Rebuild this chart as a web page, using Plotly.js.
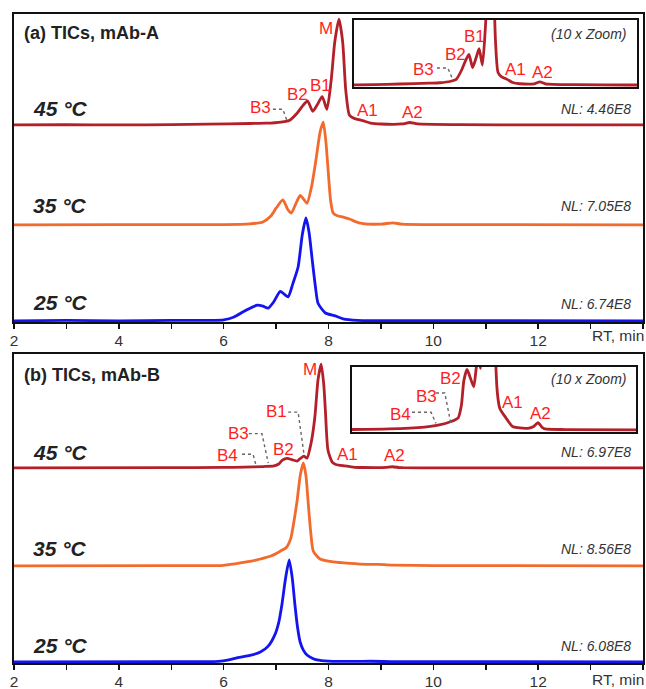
<!DOCTYPE html>
<html>
<head>
<meta charset="utf-8">
<script src="https://cdn.plot.ly/plotly-3.0.1.min.js"></script>
<style>
html,body{margin:0;padding:0;background:#fff;}
#chart{width:646px;height:689px;}
</style>
</head>
<body>
<div id="chart"></div>
<script>
// ---------- DATA (intensity in relative units, 1 unit ~ main peak) ----------
// Panel (a) mAb-A
const rtA45 = [2.0, 3.0, 4.0, 5.0, 5.7, 6.5, 6.8, 7.1, 7.25, 7.4, 7.5, 7.6, 7.7, 7.8, 7.88, 7.97, 8.05, 8.12, 8.2, 8.27, 8.33, 8.4, 8.5, 8.65, 8.8, 9.0, 9.4, 9.55, 9.7, 10.5, 12.0, 14.0];
const iA45  = [0.0, 0.002, 0.0, 0.003, 0.008, 0.015, 0.018, 0.03, 0.045, 0.12, 0.19, 0.245, 0.14, 0.22, 0.29, 0.16, 0.45, 0.85, 1.08, 0.85, 0.35, 0.10, 0.065, 0.045, 0.02, 0.01, 0.01, 0.025, 0.01, 0.003, 0.0, 0.0];
const rtA35 = [2.0, 4.0, 6.0, 6.5, 6.75, 6.9, 7.0, 7.13, 7.22, 7.29, 7.38, 7.46, 7.53, 7.59, 7.68, 7.76, 7.84, 7.9, 7.95, 7.99, 8.04, 8.09, 8.18, 8.28, 8.4, 8.5, 8.66, 9.0, 9.23, 9.4, 10.0, 14.0];
const iA35  = [0.0, 0.003, 0.002, 0.01, 0.03, 0.09, 0.17, 0.255, 0.16, 0.12, 0.22, 0.30, 0.26, 0.22, 0.40, 0.66, 0.95, 1.05, 0.85, 0.58, 0.25, 0.12, 0.09, 0.08, 0.06, 0.035, 0.012, 0.008, 0.02, 0.008, 0.003, 0.0];
const rtA25 = [2.0, 3.0, 4.0, 5.0, 5.8, 6.0, 6.2, 6.4, 6.64, 6.75, 6.85, 6.95, 7.08, 7.16, 7.23, 7.32, 7.42, 7.5, 7.57, 7.63, 7.69, 7.75, 7.8, 7.94, 8.13, 8.28, 8.55, 10.0, 14.0];
const iA25  = [0.0, 0.005, 0.0, 0.004, 0.005, 0.01, 0.04, 0.10, 0.16, 0.15, 0.13, 0.19, 0.30, 0.27, 0.245, 0.38, 0.55, 0.88, 1.05, 0.90, 0.62, 0.35, 0.18, 0.08, 0.05, 0.02, 0.005, 0.002, 0.0];
// Panel (b) mAb-B
const rtB45 = [2.0, 5.0, 6.0, 6.39, 6.76, 6.96, 7.05, 7.12, 7.21, 7.3, 7.4, 7.47, 7.53, 7.59, 7.67, 7.74, 7.8, 7.86, 7.91, 7.94, 7.99, 8.07, 8.14, 8.31, 8.5, 8.65, 8.94, 9.1, 9.22, 9.35, 9.42, 10.0, 14.0];
const iB45  = [0.0, 0.002, 0.005, 0.008, 0.014, 0.02, 0.04, 0.08, 0.098, 0.085, 0.07, 0.10, 0.12, 0.10, 0.26, 0.52, 0.90, 1.06, 0.85, 0.59, 0.18, 0.06, 0.035, 0.02, 0.006, 0.004, 0.003, 0.006, 0.012, 0.004, 0.002, 0.001, 0.0];
const rtB35 = [2.0, 5.0, 6.0, 6.2, 6.5, 6.7, 6.9, 7.08, 7.2, 7.28, 7.34, 7.4, 7.46, 7.52, 7.57, 7.61, 7.66, 7.71, 7.84, 8.09, 8.41, 8.74, 8.95, 9.2, 10.0, 14.0];
const iB35  = [0.0, 0.002, 0.005, 0.02, 0.045, 0.07, 0.10, 0.15, 0.19, 0.28, 0.45, 0.66, 0.92, 1.05, 0.92, 0.66, 0.35, 0.15, 0.07, 0.04, 0.025, 0.015, 0.015, 0.008, 0.003, 0.0];
const rtB25 = [2.0, 5.0, 5.9, 6.1, 6.3, 6.5, 6.7, 6.85, 6.98, 7.05, 7.11, 7.18, 7.25, 7.31, 7.36, 7.41, 7.46, 7.52, 7.59, 7.7, 7.78, 8.0, 8.5, 8.8, 9.2, 14.0];
const iB25  = [0.0, 0.002, 0.005, 0.02, 0.045, 0.065, 0.10, 0.16, 0.28, 0.40, 0.58, 0.85, 1.04, 0.85, 0.58, 0.35, 0.20, 0.12, 0.07, 0.035, 0.02, 0.008, 0.004, 0.006, 0.002, 0.0];

const tempLabels = ["45 °C", "35 °C", "25 °C"];
const nlA = ["NL: 4.46E8", "NL: 7.05E8", "NL: 6.74E8"];
const nlB = ["NL: 6.97E8", "NL: 8.56E8", "NL: 6.08E8"];
const xTickVals = [2, 4, 6, 8, 10, 12];
const xTickText = ["2", "4", "6", "8", "10", "12"];
const panelTitles = ["(a) TICs, mAb-A", "(b) TICs, mAb-B"];

// ---------- STYLE ----------
const C45 = "#b3202a", C35 = "#f26a2c", C25 = "#1414f0";
const RED = "#ff1e1e";
const offA = [2.0, 0.98, 0];   // stacking offsets for 45, 35, 25
const offB = [1.98, 0.98, 0];
const LW = 2.8;

function shift(arr, o) { return arr.map(v => v + o); }
function tr(x, y, color, xa, ya) {
  return {x: x, y: y, type: "scatter", mode: "lines", xaxis: xa, yaxis: ya,
          line: {color: color, width: LW, shape: "spline", smoothing: 0.6},
          hoverinfo: "skip", showlegend: false};
}

const data = [
  tr(rtA45, shift(iA45, offA[0]), C45, "x", "y"),
  tr(rtA35, shift(iA35, offA[1]), C35, "x", "y"),
  tr(rtA25, shift(iA25, offA[2]), C25, "x", "y"),
  tr(rtA45, iA45, C45, "x2", "y2"),
  tr(rtB45, shift(iB45, offB[0]), C45, "x3", "y3"),
  tr(rtB35, shift(iB35, offB[1]), C35, "x3", "y3"),
  tr(rtB25, shift(iB25, offB[2]), C25, "x3", "y3"),
  tr(rtB45, iB45, C45, "x4", "y4")
];

const TICKFONT = {family: "Liberation Sans, Arial, sans-serif", size: 15.5, color: "#333"};

function mainX(anchor) {
  return {range: [2, 14], domain: [0, 1], anchor: anchor, showline: true, mirror: true,
          linecolor: "#111", linewidth: 2, ticks: "outside", ticklen: 5, tickwidth: 1.5, tickcolor: "#111",
          tickvals: xTickVals, ticktext: xTickText, tickfont: TICKFONT, ticklabelstandoff: -2,
          minor: {ticks: "outside", dtick: 1, ticklen: 5, tickwidth: 1.5, tickcolor: "#111", showgrid: false},
          showgrid: false, zeroline: false, fixedrange: true};
}
function mainY(dom, top, anchor) {
  return {range: [-0.012, top], domain: dom, anchor: anchor, showline: true, mirror: true,
          linecolor: "#111", linewidth: 2, ticks: "", showticklabels: false,
          showgrid: false, zeroline: false, fixedrange: true};
}
function insetX(dom, rng, anchor) {
  return {range: rng, domain: dom, anchor: anchor, showline: true, mirror: true,
          linecolor: "#111", linewidth: 2, ticks: "", showticklabels: false,
          showgrid: false, zeroline: false, fixedrange: true};
}
function insetY(dom, rng, anchor) {
  return {range: rng, domain: dom, anchor: anchor, showline: true, mirror: true,
          linecolor: "#111", linewidth: 2, ticks: "", showticklabels: false,
          showgrid: false, zeroline: false, fixedrange: true};
}

const ann = [];
function txt(xref, yref, x, y, text, opts) {
  ann.push(Object.assign({xref: xref, yref: yref, x: x, y: y, text: text, showarrow: false,
    xanchor: "center", yanchor: "middle"}, opts || {}));
}
const PK = {font: {family: "Liberation Sans, Arial, sans-serif", size: 17, color: RED}};
const TEMPF = {family: "Liberation Sans, Arial, sans-serif", size: 21, color: "#222", weight: "bold", style: "italic"};
const NLF = {family: "Liberation Sans, Arial, sans-serif", size: 14, color: "#333", style: "italic"};
const TITF = {family: "Liberation Sans, Arial, sans-serif", size: 18, color: "#222", weight: "bold"};
const ZF = {family: "Liberation Sans, Arial, sans-serif", size: 14, color: "#333", style: "italic"};

// Panel titles
txt("x", "y", 2.15, 2.94, panelTitles[0], {xanchor: "left", font: TITF});
txt("x3", "y3", 2.15, 2.93, panelTitles[1], {xanchor: "left", font: TITF});
// Temperature labels
const tempYA = [2.17, 1.18, 0.19], tempYB = [2.14, 1.16, 0.17];
const nlYA = [2.16, 1.17, 0.17], nlYB = [2.14, 1.15, 0.16];
for (let i = 0; i < 3; i++) {
  txt("x", "y", 2.33, tempYA[i], tempLabels[i], {xanchor: "left", font: TEMPF});
  txt("x3", "y3", 2.33, tempYB[i], tempLabels[i], {xanchor: "left", font: TEMPF});
  txt("x", "y", 13.81, nlYA[i], nlA[i], {xanchor: "right", font: NLF});
  txt("x3", "y3", 13.81, nlYB[i], nlB[i], {xanchor: "right", font: NLF});
}
// RT, min
txt("paper", "paper", 1.005, 0.5254 - 0.021, "RT, min", {xanchor: "right", font: TICKFONT});
txt("paper", "paper", 1.005, -0.026, "RT, min", {xanchor: "right", font: TICKFONT});

// Peak labels, panel (a)
txt("x", "y", 7.96, 2.99, "M", PK);
txt("x", "y", 7.84, 2.40, "B1", PK);
txt("x", "y", 7.40, 2.31, "B2", PK);
txt("x", "y", 6.71, 2.18, "B3", PK);
txt("x", "y", 8.74, 2.15, "A1", PK);
txt("x", "y", 9.60, 2.13, "A2", PK);
// inset (a)
txt("x2", "y2", 6.36, 0.128, "B3", PK);
txt("x2", "y2", 7.24, 0.24, "B2", PK);
txt("x2", "y2", 7.74, 0.39, "B1", PK);
txt("x2", "y2", 8.89, 0.128, "A1", PK);
txt("x2", "y2", 9.63, 0.104, "A2", PK);
txt("x2", "y2", 11.97, 0.41, "(10 x Zoom)", {xanchor: "right", font: ZF});
// Peak labels, panel (b)
txt("x3", "y3", 7.65, 2.98, "M", PK);
txt("x3", "y3", 7.00, 2.56, "B1", PK);
txt("x3", "y3", 7.15, 2.17, "B2", PK);
txt("x3", "y3", 6.29, 2.33, "B3", PK);
txt("x3", "y3", 6.08, 2.11, "B4", PK);
txt("x3", "y3", 8.37, 2.12, "A1", PK);
txt("x3", "y3", 9.25, 2.11, "A2", PK);
// inset (b)
txt("x4", "y4", 6.73, 0.084, "B2", PK);
txt("x4", "y4", 6.05, 0.055, "B3", PK);
txt("x4", "y4", 5.31, 0.026, "B4", PK);
txt("x4", "y4", 8.51, 0.044, "A1", PK);
txt("x4", "y4", 9.30, 0.027, "A2", PK);
txt("x4", "y4", 11.77, 0.082, "(10 x Zoom)", {xanchor: "right", font: ZF});

// dotted leader lines
const shapes = [];
function leader(xref, yref, pts) {
  let p = "M" + pts[0][0] + "," + pts[0][1];
  for (let i = 1; i < pts.length; i++) p += " L" + pts[i][0] + "," + pts[i][1];
  shapes.push({type: "path", xref: xref, yref: yref, path: p,
               line: {color: "#666", width: 1.4, dash: "dot"}});
}
leader("x", "y", [[6.94, 2.16], [7.13, 2.16], [7.21, 2.04]]);
leader("x2", "y2", [[6.72, 0.136], [7.02, 0.136], [7.16, 0.04]]);
leader("x3", "y3", [[7.23, 2.55], [7.42, 2.55], [7.53, 2.13]]);
leader("x3", "y3", [[6.48, 2.33], [6.73, 2.33], [6.85, 2.03]]);
leader("x3", "y3", [[6.35, 2.12], [6.56, 2.12], [6.62, 2.0]]);
leader("x4", "y4", [[6.33, 0.060], [6.58, 0.060], [6.75, 0.011]]);
leader("x4", "y4", [[5.65, 0.029], [6.19, 0.029], [6.33, 0.011]]);

const layout = {
  width: 646, height: 689,
  margin: {l: 14, r: 3, t: 14, b: 26, pad: 0},
  paper_bgcolor: "#fff", plot_bgcolor: "rgba(0,0,0,0)",
  showlegend: false,
  xaxis: mainX("y"),
  yaxis: mainY([0.5254, 1], 3.133, "x"),
  xaxis2: insetX([0.5405, 0.9905], [4.44, 12.22], "y2"),
  yaxis2: insetY([0.8875, 0.9908], [-0.016, 0.52], "x2"),
  xaxis3: mainX("y3"),
  yaxis3: mainY([0, 0.4761], 3.143, "x3"),
  xaxis4: insetX([0.5374, 0.9889], [3.95, 12.0], "y4"),
  yaxis4: insetY([0.3559, 0.4561], [-0.003, 0.102], "x4"),
  annotations: ann,
  shapes: shapes
};

Plotly.newPlot("chart", data, layout, {staticPlot: true, displayModeBar: false});
</script>
</body>
</html>
